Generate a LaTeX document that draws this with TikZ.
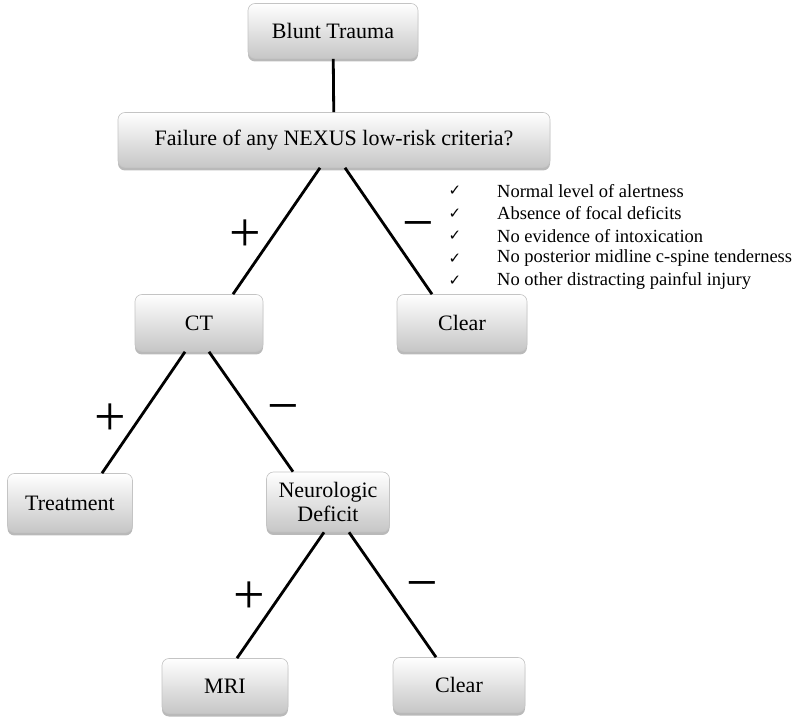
\documentclass[tikz,border=0pt]{standalone}
\usepackage{fontspec}
\setmainfont{Liberation Serif}
\newfontfamily\checkfont{DejaVu Sans}
\usetikzlibrary{positioning,shadows}
\definecolor{boxedge}{HTML}{C4C4C4}
\definecolor{boxlow}{HTML}{C6C6C6}

\begin{document}
\begin{tikzpicture}[x=1pt,y=1pt,
    box/.style={rounded corners=7pt,draw=boxedge,line width=0.6pt,top color=white,bottom color=boxlow,
      drop shadow={shadow xshift=0pt,shadow yshift=-3pt,opacity=0.55},
      minimum height=56pt,align=center,font=\fontsize{22}{24}\selectfont},
    edge/.style={line width=2.8pt},
    sign/.style={font=\fontsize{56}{56}\selectfont,inner sep=0pt},
    crit/.style={anchor=west,inner sep=0pt,font=\fontsize{18.5}{18.5}\selectfont},
    tick/.style={inner sep=0pt,font=\checkfont\fontsize{15}{15}\selectfont}]
  \useasboundingbox (0,0) rectangle (800,723);
  % top of the tree
  \node[box,minimum width=170pt,minimum height=55pt] (trauma) at (333,692) {Blunt Trauma};
  \node[box,minimum width=432pt,minimum height=55pt] (nexus) at (334,583) {Failure of any NEXUS low-risk criteria?};
  \draw[edge] (trauma) -- (nexus);
  % first split
  \node[box,minimum width=128pt,minimum height=57pt] (ct) at (199,400) {CT};
  \node[box,minimum width=130pt,minimum height=57pt] (clear) at (462,400) {Clear};
  \draw[edge] ([xshift=-14pt]nexus.south) -- ([xshift=34pt]ct.north);
  \draw[edge] ([xshift=11pt]nexus.south) -- ([xshift=-30pt]clear.north);
  \node[sign] (plusa) at (245,487) {+};
  \node[sign] (minusa) at (418,491) {−};
  % low-risk criteria
  \node[tick] (ca) at (455,532) {✓};
  \node[tick] (cb) at (455,509.5) {✓};
  \node[tick] (cc) at (455,487) {✓};
  \node[tick] (cd) at (455,464.5) {✓};
  \node[tick] (ce) at (455,442) {✓};
  \node[crit] (ta) at (497,532) {Normal level of alertness};
  \node[crit] (tb) at (497,509.5) {Absence of focal deficits};
  \node[crit] (tc) at (497,487) {No evidence of intoxication};
  \node[crit] (td) at (497,464.5) {No posterior midline c-spine tenderness};
  \node[crit] (te) at (497,442) {No other distracting painful injury};
  % second split
  \node[box,minimum width=125pt,minimum height=59pt] (treat) at (70,220) {Treatment};
  \node[box,minimum width=123pt,minimum height=60pt] (neuro) at (328,221) {Neurologic\\Deficit};
  \draw[edge] ([xshift=-14pt]ct.south) -- ([xshift=32pt]treat.north);
  \draw[edge] ([xshift=10pt]ct.south) -- ([xshift=-35pt]neuro.north);
  \node[sign] (plusb) at (110,303) {+};
  \node[sign] (minusb) at (283,308) {−};
  % third split
  \node[box,minimum width=126pt,minimum height=55pt] (mri) at (225,37) {MRI};
  \node[box,minimum width=132pt,minimum height=55pt] (cleartwo) at (459,38) {Clear};
  \draw[edge] ([xshift=-4pt]neuro.south) -- ([xshift=12pt]mri.north);
  \draw[edge] ([xshift=21pt]neuro.south) -- ([xshift=-23pt]cleartwo.north);
  \node[sign] (plusc) at (249,125) {+};
  \node[sign] (minusc) at (422,131) {−};
\end{tikzpicture}
\end{document}
